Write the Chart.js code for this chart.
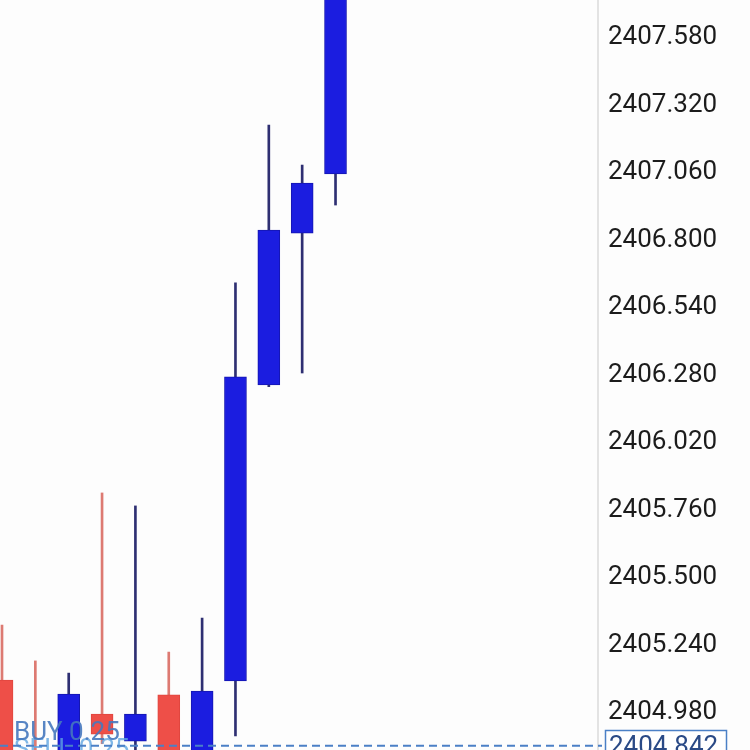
<!DOCTYPE html>
<html>
<head>
<meta charset="utf-8">
<script src="https://cdn.jsdelivr.net/npm/chart.js@4.4.1/dist/chart.umd.min.js"></script>
<style>
  html, body { margin: 0; padding: 0; background: #fdfdfd; }
  #wrap { width: 750px; height: 750px; position: relative; }
</style>
</head>
<body>
<div id="wrap"><canvas id="c" width="750" height="750"></canvas></div>
<script>
// ---- data ----
const candleIndex = [0, 1, 2, 3, 4, 5, 6, 7, 8, 9, 10];
const opens  = [2405.095, 2404.800, 2404.790, 2404.964, 2404.860, 2405.038, 2404.790, 2405.092, 2406.232, 2406.817, 2407.045];
const closes = [2404.760, 2404.760, 2405.041, 2404.887, 2404.964, 2404.760, 2405.053, 2406.263, 2406.829, 2407.010, 2407.800];
const highs  = [2405.307, 2405.169, 2405.122, 2405.816, 2405.766, 2405.203, 2405.334, 2406.625, 2407.233, 2407.079, 2407.850];
const lows   = [2404.700, 2404.700, 2404.700, 2404.850, 2404.800, 2404.700, 2404.750, 2404.880, 2406.225, 2406.278, 2406.925];
const tickValues = [2404.98, 2405.24, 2405.50, 2405.76, 2406.02, 2406.28, 2406.54, 2406.80, 2407.06, 2407.32, 2407.58];
const tickLabels = ["2404.980", "2405.240", "2405.500", "2405.760", "2406.020", "2406.280", "2406.540", "2406.800", "2407.060", "2407.320", "2407.580"];
const currentPrice = 2404.842;
const currentPriceLabel = "2404.842";
const orderLabels = ["BUY 0.25", "SELL 0.25"];

const UP_BODY = '#1b1de0', UP_WICK = '#2e2f72';
const DN_BODY = '#ee4f48', DN_WICK = '#dd7a72';
const isUp = candleIndex.map(i => closes[i] >= opens[i]);

const wickData = candleIndex.map(i => ({x: i, y: [lows[i], highs[i]]}));
const bodyData = candleIndex.map(i => ({x: i, y: [Math.min(opens[i], closes[i]), Math.max(opens[i], closes[i])]}));

const overlay = {
  id: 'overlay',
  afterDatasetsDraw(chart) {
    const ctx = chart.ctx;
    const y = chart.scales.y;
    const area = chart.chartArea;
    const py = y.getPixelForValue(currentPrice);
    ctx.save();
    // order labels
    ctx.textBaseline = 'alphabetic';
    ctx.font = '26px Roboto';
    ctx.fillStyle = 'rgba(95,165,225,0.8)';
    ctx.fillText(orderLabels[1], 14, 757);
    ctx.fillStyle = 'rgba(70,120,190,0.9)';
    ctx.fillText(orderLabels[0], 14, 740);
    // dashed current price line
    ctx.strokeStyle = '#4b80c6';
    ctx.lineWidth = 2;
    ctx.setLineDash([8, 5]);
    ctx.beginPath();
    ctx.moveTo(area.left, py);
    ctx.lineTo(area.right + 4, py);
    ctx.stroke();
    ctx.setLineDash([]);
    // price box
    ctx.fillStyle = '#ffffff';
    ctx.fillRect(605, 730, 122, 30);
    ctx.strokeStyle = '#4b80c6';
    ctx.lineWidth = 1.5;
    ctx.strokeRect(605.5, 730.5, 121, 30);
    ctx.fillStyle = '#2a4a86';
    ctx.font = '26px Roboto';
    ctx.fillText(currentPriceLabel, 609, 754);
    ctx.restore();
  }
};

new Chart(document.getElementById('c'), {
  type: 'bar',
  data: {
    datasets: [
      {
        label: 'wick',
        data: wickData,
        backgroundColor: candleIndex.map(i => isUp[i] ? UP_WICK : DN_WICK),
        barThickness: 2,
        grouped: false,
        order: 2
      },
      {
        label: 'body',
        data: bodyData,
        backgroundColor: candleIndex.map(i => isUp[i] ? UP_BODY : DN_BODY),
        borderColor: candleIndex.map(i => isUp[i] ? '#1516b0' : '#e0463f'),
        borderWidth: 1,
        borderSkipped: false,
        barThickness: 22,
        grouped: false,
        order: 1
      }
    ]
  },
  options: {
    responsive: false,
    animation: false,
    events: [],
    layout: { padding: 0 },
    plugins: { legend: { display: false }, tooltip: { enabled: false } },
    scales: {
      x: {
        type: 'linear',
        display: false,
        min: -0.06,
        max: 17.87,
        offset: false
      },
      y: {
        position: 'right',
        min: 2404.8258,
        max: 2407.7148,
        afterBuildTicks(scale) { scale.ticks = tickValues.map(v => ({value: v})); },
        afterFit(scale) { scale.width = 152; scale.paddingTop = 0; scale.paddingBottom = 0; },
        grid: { display: false, drawTicks: false },
        border: { display: true, color: '#e3e3e3', width: 2 },
        ticks: {
          padding: 10,
          labelOffset: 3,
          color: '#1c1c1c',
          font: { family: 'Roboto', size: 26 },
          callback: (v, idx) => tickLabels[idx]
        }
      }
    }
  },
  plugins: [overlay]
});
</script>
</body>
</html>
